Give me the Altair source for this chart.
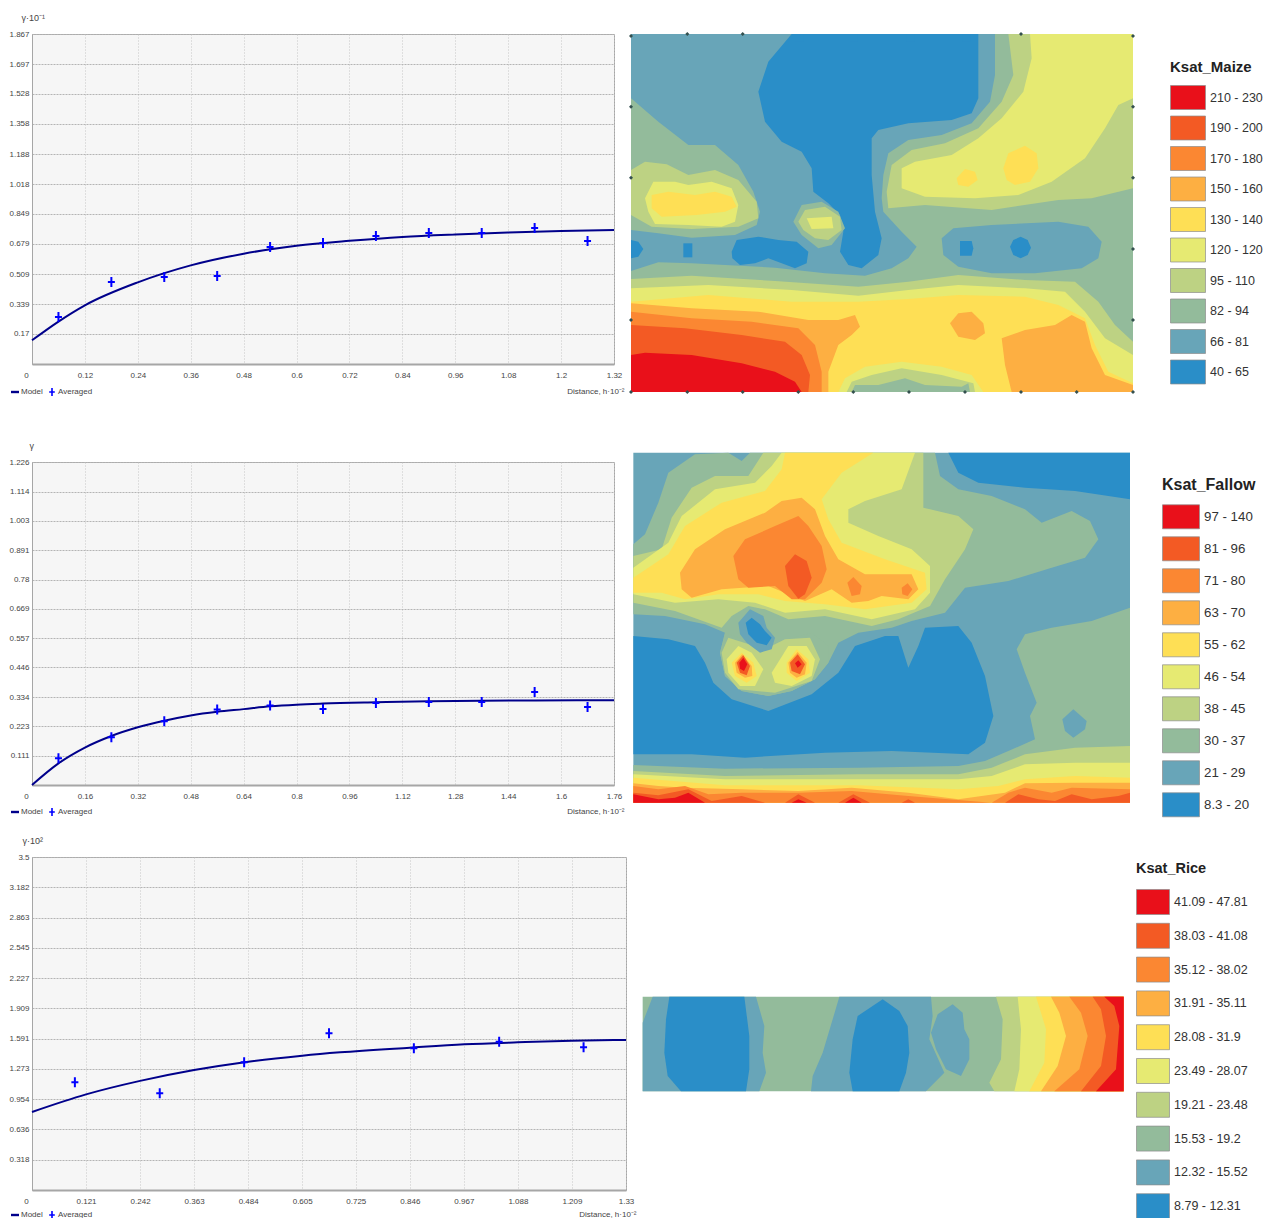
import altair as alt

FONT = "Liberation Sans"
CLASS_COLORS = ["#e9101a", "#f35a24", "#fb8732", "#fdaf42", "#fedf55",
                "#e6ea72", "#bdd283", "#93bb9b", "#68a5b8", "#2a8ec8"]
R, RO, O, LO, Y, YG, OL, SG, T, B = range(10)

# ---------- variograms ----------
m_x_ticks = [0, 0.12, 0.24, 0.36, 0.48, 0.6, 0.72, 0.84, 0.96, 1.08, 1.2, 1.32]
m_y_ticks = [0.17, 0.339, 0.509, 0.679, 0.849, 1.018, 1.188, 1.358, 1.528, 1.697, 1.867]
m_curve_x = [0, 0.06, 0.12, 0.24, 0.36, 0.48, 0.6, 0.72, 0.84, 0.96, 1.08, 1.2, 1.32]
m_curve_y = [0.134, 0.24, 0.332, 0.462, 0.558, 0.624, 0.669, 0.697, 0.719, 0.733, 0.744, 0.752, 0.758]
m_avg_x = [0.06, 0.18, 0.30, 0.42, 0.54, 0.66, 0.78, 0.90, 1.02, 1.14, 1.26]
m_avg_y = [0.266, 0.464, 0.492, 0.498, 0.662, 0.685, 0.724, 0.741, 0.741, 0.769, 0.696]

f_x_ticks = [0, 0.16, 0.32, 0.48, 0.64, 0.8, 0.96, 1.12, 1.28, 1.44, 1.6, 1.76]
f_y_ticks = [0.111, 0.223, 0.334, 0.446, 0.557, 0.669, 0.78, 0.891, 1.003, 1.114, 1.226]
f_curve_x = [0, 0.08, 0.16, 0.24, 0.32, 0.40, 0.48, 0.56, 0.64, 0.72, 0.8, 0.88, 1.04, 1.2, 1.36, 1.52, 1.76]
f_curve_y = [0, 0.082, 0.142, 0.186, 0.219, 0.244, 0.264, 0.278, 0.288, 0.2985, 0.305, 0.309, 0.314, 0.318, 0.32, 0.321, 0.322]
f_avg_x = [0.08, 0.24, 0.40, 0.56, 0.72, 0.88, 1.04, 1.20, 1.36, 1.52, 1.68]
f_avg_y = [0.102, 0.181, 0.242, 0.287, 0.302, 0.288, 0.311, 0.315, 0.315, 0.353, 0.296]

r_x_ticks = [0, 0.121, 0.242, 0.363, 0.484, 0.605, 0.725, 0.846, 0.967, 1.088, 1.209, 1.33]
r_y_ticks = [0.318, 0.636, 0.954, 1.273, 1.591, 1.909, 2.227, 2.545, 2.863, 3.182, 3.5]
r_curve_x = [0, 0.121, 0.242, 0.363, 0.484, 0.605, 0.69, 0.846, 0.968, 1.088, 1.209, 1.33]
r_curve_y = [0.82, 1.005, 1.147, 1.261, 1.349, 1.412, 1.447, 1.496, 1.531, 1.552, 1.569, 1.577]
r_avg_x = [0.096, 0.286, 0.475, 0.665, 0.855, 1.046, 1.235]
r_avg_y = [1.132, 1.016, 1.342, 1.647, 1.489, 1.559, 1.5]

# ---------- legends ----------
maize_labels = ["210 - 230", "190 - 200", "170 - 180", "150 - 160", "130 - 140",
                "120 - 120", "95 - 110", "82 - 94", "66 - 81", "40 - 65"]
fallow_labels = ["97 - 140", "81 - 96", "71 - 80", "63 - 70", "55 - 62",
                 "46 - 54", "38 - 45", "30 - 37", "21 - 29", "8.3 - 20"]
rice_labels = ["41.09 - 47.81", "38.03 - 41.08", "35.12 - 38.02", "31.91 - 35.11", "28.08 - 31.9",
               "23.49 - 28.07", "19.21 - 23.48", "15.53 - 19.2", "12.32 - 15.52", "8.79 - 12.31"]

# sampling stations on the frame of the maize map
maize_stations = [(18,33),(187,27),(353,27),(1188,27),(1524,33),(18,245),(18,458),(18,885),(18,1101),
                  (187,1101),(353,1101),(520,1101),(685,1101),(852,1101),(1020,1101),(1188,1101),
                  (1355,1101),(1524,1101),(1524,245),(1524,458),(1524,672),(1524,885)]

# ---------- class regions, painted in order ----------
maize_regions = [
 (SG, [(18,27),(1524,27),(1524,1101),(18,1101)]),
 (OL, [(1150,27),(1524,27),(1524,490),(1400,520),(1300,525),(1100,555),(900,540),(790,550),(785,500),(800,420),(860,375),(960,355),(1060,310),(1130,230),(1165,150)]),
 (YG, [(1215,27),(1524,27),(1524,220),(1480,240),(1440,310),(1380,400),(1280,470),(1180,510),(1050,520),(900,515),(830,490),(830,430),(870,410),(980,390),(1060,340),(1130,280),(1195,200),(1220,100)]),
 (Y, [(1135,430),(1150,385),(1200,362),(1235,385),(1240,430),(1215,470),(1170,480),(1145,465)]),
 (Y, [(995,460),(1020,432),(1050,440),(1058,465),(1030,485),(1000,480)]),
 (T, [(18,27),(1110,27),(1110,150),(1095,230),(1040,295),(950,330),(850,345),(790,385),(775,450),(770,520),(775,560),(830,620),(875,665),(850,700),(800,730),(720,752),(600,745),(450,728),(300,720),(200,715),(100,712),(18,738),(18,615),(100,625),(200,638),(330,630),(395,600),(405,560),(385,500),(340,420),(270,360),(190,360),(100,290),(18,220)]),
 (T, [(950,640),(985,610),(1100,600),(1300,590),(1390,605),(1430,650),(1420,700),(1370,730),(1230,745),(1100,745),(1000,725),(955,690)]),
 (B, [(1060,27),(1060,220),(1040,265),(980,285),(850,295),(760,315),(740,340),(740,450),(750,560),(770,640),(760,690),(710,730),(670,720),(645,680),(655,620),(645,570),(610,535),(565,500),(560,430),(530,380),(470,350),(420,290),(400,200),(430,110),(500,27)]),
 (SG, [(505,590),(530,540),(590,530),(640,560),(660,610),(620,660),(580,670),(530,630)]),
 (OL, [(520,590),(540,555),(600,545),(645,575),(650,615),(610,645),(570,640),(535,615)]),
 (YG, [(545,580),(620,575),(625,610),(560,612)]),
 (B, [(510,27),(535,27),(535,50),(510,50)]),
 (B, [(675,27),(697,27),(697,50),(675,50)]),
 (B, [(845,27),(868,27),(868,50),(845,50)]),
 (B, [(1013,27),(1037,27),(1037,50),(1013,50)]),
 (B, [(18,645),(40,650),(55,672),(40,695),(18,700)]),
 (B, [(175,655),(202,655),(202,697),(175,697)]),
 (B, [(320,680),(335,645),(400,635),(460,645),(515,650),(550,680),(545,715),(510,730),(470,715),(430,700),(390,715),(345,720),(322,700)]),
 (B, [(1005,648),(1040,648),(1045,670),(1040,692),(1005,692)]),
 (B, [(1155,665),(1165,645),(1187,635),(1208,645),(1218,668),(1208,690),(1187,700),(1165,690)]),
 (OL, [(18,435),(60,410),(125,418),(190,450),(270,435),(340,465),(395,530),(400,580),(340,605),(200,612),(80,605),(18,570)]),
 (YG, [(60,520),(85,470),(150,470),(190,480),(260,470),(320,490),(340,540),(330,590),(290,605),(190,600),(90,597),(70,560)]),
 (Y, [(80,510),(130,500),(210,510),(270,500),(320,515),(335,545),(300,560),(215,570),(110,575),(80,550)]),
 (OL, [(18,762),(200,752),(450,768),(700,785),(850,770),(1000,750),(1200,765),(1350,770),(1420,830),(1470,900),(1524,950),(1524,1101),(18,1101)]),
 (YG, [(18,790),(250,780),(500,795),(700,812),(850,795),(1000,780),(1200,790),(1320,800),(1380,860),(1440,940),(1524,990),(1524,1101),(18,1101)]),
 (Y, [(18,830),(250,810),(500,830),(700,830),(850,822),(1000,810),(1200,815),(1300,840),(1380,880),(1410,960),(1450,1040),(1524,1075),(1524,1101),(18,1101)]),
 (LO, [(1130,940),(1200,915),(1290,900),(1340,870),(1380,890),(1400,970),(1440,1050),(1524,1080),(1524,1101),(1160,1101),(1140,1020)]),
 (LO, [(18,835),(200,850),(400,860),(550,885),(640,885),(690,870),(705,905),(680,930),(640,960),(610,1040),(610,1101),(18,1101)]),
 (YG, [(640,1101),(660,1060),(720,1025),(830,1010),(950,1025),(1040,1050),(1075,1101)]),
 (OL, [(665,1101),(680,1070),(740,1050),(830,1030),(950,1050),(1045,1075),(1050,1101)]),
 (SG, [(680,1101),(690,1080),(760,1080),(840,1060),(900,1080),(1010,1085),(1030,1075),(1035,1101)]),
 (LO, [(975,895),(1000,865),(1040,860),(1075,895),(1080,925),(1050,945),(1000,935)]),
 (O, [(18,860),(200,880),(380,890),(520,910),(570,960),(590,1040),(590,1101),(18,1101)]),
 (RO, [(18,900),(180,910),(350,930),(480,950),(530,990),(555,1050),(550,1101),(18,1101)]),
 (R, [(18,990),(60,983),(200,990),(350,1015),(450,1040),(510,1070),(530,1101),(18,1101)]),
]

fallow_regions = [
 (T, [(25,20),(1515,20),(1515,1070),(25,1070)]),
 (B, [(970,20),(1515,20),(1515,160),(1350,135),(1200,125),(1060,110),(1000,80)]),
 (SG, [(25,295),(60,265),(100,170),(130,80),(210,25),(310,20),(350,45),(375,20),(930,20),(945,90),(1000,130),(1100,150),(1200,190),(1250,230),(1340,195),(1395,225),(1420,280),(1380,335),(1280,365),(1150,405),(1020,425),(960,500),(860,525),(800,545),(700,560),(640,590),(610,650),(570,700),(500,735),(430,750),(350,735),(300,690),(285,620),(300,560),(240,535),(120,510),(25,505)]),
 (OL, [(25,330),(110,310),(140,215),(200,125),(270,90),(370,90),(415,20),(895,20),(895,185),(1000,210),(1045,250),(1020,310),(960,400),(915,480),(820,520),(740,540),(600,510),(490,520),(420,490),(370,480),(320,510),(290,545),(150,495),(25,470)]),
 (YG, [(25,365),(130,290),(170,210),(270,130),(390,110),(440,60),(470,20),(870,20),(830,130),(720,165),(670,190),(670,230),(760,270),(860,310),(915,360),(915,440),(870,490),(740,520),(600,490),(480,500),(390,470),(280,460),(150,470),(25,445)]),
 (Y, [(25,395),(130,325),(180,240),(290,170),(420,135),(470,70),(480,20),(745,20),(650,80),(590,160),(610,220),(650,290),(780,340),(900,380),(905,430),(860,470),(720,490),(600,475),(480,465),(400,445),(280,445),(180,460),(110,440),(25,440)]),
 (LO, [(165,380),(210,310),(300,250),(420,200),(470,165),(530,155),(570,190),(600,270),(640,340),(720,385),(800,385),(860,385),(880,430),(850,460),(770,450),(730,465),(680,470),(620,430),(540,465),(430,420),(290,430),(200,455),(170,430)]),
 (O, [(325,330),(360,280),(450,240),(520,210),(550,240),(590,300),(605,370),(590,410),(540,460),(500,460),(450,420),(370,425),(340,400)]),
 (RO, [(480,360),(510,325),(545,345),(560,395),(540,445),(520,458),(490,420)]),
 (O, [(667,410),(685,393),(710,420),(705,445),(680,450)]),
 (O, [(830,425),(848,412),(862,430),(848,450),(832,445)]),
 (B, [(25,570),(130,580),(210,600),(240,650),(265,710),(320,760),(430,795),(560,745),(640,680),(690,600),(780,570),(820,570),(850,665),(880,600),(900,545),(1000,540),(1040,590),(1080,690),(1105,810),(1080,890),(1030,925),(800,915),(600,920),(360,935),(200,925),(25,925)]),
 (SG, [(285,620),(300,560),(420,600),(560,560),(610,600),(610,650),(570,700),(500,735),(430,750),(350,735),(300,690)]),
 (OL, [(290,620),(310,575),(420,610),(480,580),(555,575),(585,640),(560,705),(450,740),(340,730),(300,680)]),
 (YG, [(305,640),(340,600),(380,620),(415,670),(390,720),(345,720),(310,680)]),
 (YG, [(440,680),(490,600),(545,600),(570,640),(560,690),(500,720),(450,710)]),
 (Y, [(320,650),(350,620),(385,650),(395,690),(365,710),(330,690)]),
 (Y, [(485,650),(515,610),(550,640),(555,680),(515,705),(485,680)]),
 (LO, [(330,650),(352,625),(380,660),(382,690),(360,695),(335,680)]),
 (LO, [(490,650),(518,618),(545,650),(540,685),(515,695),(495,680)]),
 (RO, [(335,650),(355,628),(375,660),(365,688),(345,680)]),
 (RO, [(495,650),(518,625),(540,655),(525,685),(500,675)]),
 (R, [(343,650),(355,635),(367,655),(357,675),(345,668)]),
 (R, [(510,652),(520,643),(530,655),(518,665)]),
 (T, [(340,530),(375,490),(415,510),(425,545),(450,575),(440,610),(405,620),(365,590),(345,565)]),
 (B, [(362,530),(380,515),(405,535),(420,555),(440,575),(425,598),(395,590),(370,565)]),
 (SG, [(1175,610),(1200,565),(1280,545),(1400,525),(1515,485),(1515,1070),(25,1070),(25,957),(300,968),(700,965),(1000,960),(1080,945),(1150,915),(1230,880),(1215,810),(1235,770),(1200,680)]),
 (T, [(1312,820),(1345,790),(1385,825),(1380,850),(1345,875),(1320,855)]),
 (OL, [(25,975),(300,990),(700,985),(1000,985),(1100,965),(1200,925),(1350,905),(1515,900),(1515,1070),(25,1070)]),
 (YG, [(25,985),(300,1000),(700,1000),(1000,1000),(1100,990),(1200,955),(1350,950),(1515,950),(1515,1070),(25,1070)]),
 (Y, [(25,995),(300,1018),(700,1018),(1000,1030),(1120,1020),(1200,1000),(1350,990),(1515,995),(1515,1070),(25,1070)]),
 (LO, [(25,1012),(100,1020),(180,1025),(350,1030),(520,1035),(680,1025),(850,1040),(1000,1060),(1140,1040),(1200,1012),(1350,1010),(1515,1010),(1515,1070),(25,1070)]),
 (O, [(25,1020),(100,1030),(180,1020),(250,1045),(350,1040),(520,1040),(680,1035),(850,1050),(1100,1070),(1150,1040),(1200,1025),(1280,1040),(1340,1025),(1515,1030),(1515,1070),(25,1070)]),
 (RO, [(25,1040),(100,1048),(190,1030),(260,1065),(350,1050),(420,1070),(25,1070)]),
 (RO, [(480,1070),(520,1045),(570,1070)]),
 (RO, [(640,1070),(685,1045),(735,1070)]),
 (RO, [(830,1070),(850,1060),(870,1070)]),
 (RO, [(1140,1070),(1180,1045),(1240,1060),(1290,1065),(1340,1045),(1400,1060),(1480,1050),(1515,1040),(1515,1070)]),
 (R, [(25,1045),(100,1060),(150,1055),(190,1040),(240,1070),(25,1070)]),
 (R, [(500,1070),(520,1060),(545,1070)]),
 (R, [(660,1070),(685,1055),(710,1070)]),
]

rice_regions = [
 (SG, [(20,32),(1463,32),(1463,316),(20,316)]),
 (T, [(20,110),(50,32),(360,32),(385,120),(380,200),(390,260),(370,316),(20,316)]),
 (B, [(100,32),(325,32),(340,150),(340,250),(330,316),(135,316),(95,270),(85,200),(90,100)]),
 (T, [(610,32),(885,32),(890,90),(880,160),(925,260),(870,316),(525,316),(530,270),(560,200),(590,100)]),
 (B, [(665,90),(740,40),(790,75),(815,120),(820,200),(810,260),(790,316),(650,316),(640,260),(650,160)]),
 (T, [(905,85),(950,55),(980,80),(985,130),(1000,160),(1000,220),(975,270),(930,250),(900,190),(885,140)]),
 (OL, [(1080,32),(1463,32),(1463,316),(1075,316),(1060,290),(1095,220),(1100,100)]),
 (YG, [(1145,32),(1463,32),(1463,316),(1135,316),(1150,250),(1155,130)]),
 (Y, [(1200,32),(1463,32),(1463,316),(1180,316),(1225,230),(1230,130),(1215,80)]),
 (LO, [(1245,32),(1463,32),(1463,316),(1215,316),(1265,240),(1290,150),(1270,80)]),
 (O, [(1300,32),(1463,32),(1463,316),(1255,316),(1330,250),(1355,150),(1335,80)]),
 (RO, [(1370,32),(1463,32),(1463,316),(1335,316),(1395,240),(1410,150),(1395,70)]),
 (R, [(1405,32),(1463,32),(1463,316),(1380,316),(1440,250),(1450,120),(1435,60)]),
]

MODEL_PATH = "M-1,-0.3H1V0.3H-1Z"
CROSS_PATH = "M-0.2,-1H0.2V-0.2H0.7V0.2H0.2V1H-0.2V0.2H-0.7V-0.2H-0.2Z"
LABEL_EXPR = "toString(datum.value)"
SYM_BOX = 26  # nominal legend symbol box; the drawn swatch is scaled from it


def variogram(xt, yt, cx, cy, ax, ay, w, h, ytitle, ytitle_x, xtitle_x, legend_dy, xtitle_y):
    xs = alt.X("x:Q", scale=alt.Scale(domain=[0, xt[-1]], nice=False, zero=False),
               axis=alt.Axis(values=xt, labelExpr=LABEL_EXPR, title="Distance, h·10⁻²", labelOverlap=False,
                             labelFont=FONT, labelFontSize=8, labelColor="#444", labelPadding=7,
                             tickSize=0, domainColor="#a6a6a6", domainWidth=2,
                             gridColor="#c6c6c6", gridDash=[1, 2],
                             labelFlush=False, labelBound=False,
                             labelOffset=alt.condition("datum.value == 0", alt.value(-6), alt.value(0)),
                             titleFont=FONT, titleFontSize=8, titleFontWeight="normal", titleColor="#444",
                             titleAlign="right", titleBaseline="middle", titleX=xtitle_x, titleY=xtitle_y))
    ys = alt.Y("y:Q", scale=alt.Scale(domain=[0, yt[-1]], nice=False, zero=False),
               axis=alt.Axis(values=yt, labelExpr=LABEL_EXPR, title=ytitle, labelOverlap=False,
                             labelFont=FONT, labelFontSize=8, labelColor="#444", labelPadding=3,
                             labelFlush=False, labelBound=False,
                             tickSize=0, domainColor="#a6a6a6", domainWidth=1,
                             gridColor="#b4b4b4", gridDash=[2, 1],
                             titleFont=FONT, titleFontSize=9, titleFontWeight="normal", titleColor="#444",
                             titleAngle=0, titleAlign="left", titleBaseline="middle", titleX=ytitle_x, titleY=-17))
    line = alt.Chart(alt.Data(values=[{"x": a, "y": b} for a, b in zip(cx, cy)])).mark_line(
        color="#00008b", strokeWidth=2, interpolate="monotone").encode(x=xs, y=ys)
    leg = alt.Legend(title=None, orient="none", direction="horizontal", columns=2,
                     legendX=-22, legendY=h + legend_dy, labelFont=FONT, labelFontSize=8, labelColor="#444",
                     symbolSize=64, columnPadding=4, labelOffset=1, padding=0)
    pts = alt.Chart(alt.Data(values=[{"x": a, "y": b, "s": "Averaged"} for a, b in zip(ax, ay)])).mark_point(
        filled=True, size=100, opacity=1).encode(
        x=xs, y=ys,
        color=alt.Color("s:N", scale=alt.Scale(domain=["Model", "Averaged"], range=["#00008b", "#0000ff"]), legend=leg),
        shape=alt.Shape("s:N", scale=alt.Scale(domain=["Model", "Averaged"], range=[MODEL_PATH, CROSS_PATH]), legend=leg),
    )
    return alt.layer(line, pts).properties(
        width=w, height=h, view=alt.ViewBackground(fill="#f6f6f6", stroke="#a6a6a6"))


def polygon_feature(poly, **props):
    ring = [list(p) for p in poly] + [list(poly[0])]
    return {"type": "Feature", "geometry": {"type": "Polygon", "coordinates": [ring]}, **props}


def contour_map(regions, labels, title, w, h, tx, ty, lx, ly, sym_w, sym_h, row_pad, lab_off, lab_size,
                title_size, title_pad, precision, stations=()):
    feats = [polygon_feature(poly, cls=labels[c]) for c, poly in regions]
    a = sym_w / SYM_BOX
    b = sym_h / SYM_BOX
    path = f"M{-a:.3f},{-b:.3f}H{a:.3f}V{b:.3f}H{-a:.3f}Z"
    proj = dict(type="identity", scale=1 / 3, translate=[tx, ty], precision=precision)
    base = alt.Chart(alt.Data(values=feats)).mark_geoshape(strokeWidth=0, clip=False).encode(
        color=alt.Color("cls:N", scale=alt.Scale(domain=labels, range=CLASS_COLORS), sort=None,
                        legend=alt.Legend(title=title, orient="none", legendX=lx, legendY=ly, values=labels,
                                          symbolType=path, symbolSize=SYM_BOX * SYM_BOX, symbolStrokeWidth=0.7,
                                          symbolStrokeColor="#8c8c8c", symbolOpacity=1,
                                          symbolOffset=(sym_w - SYM_BOX) / 2,
                                          rowPadding=row_pad, labelFont=FONT, labelFontSize=lab_size,
                                          labelColor="#333", labelOffset=lab_off, labelLimit=200, padding=0,
                                          titleFont=FONT, titleFontSize=title_size, titleFontWeight="bold",
                                          titleColor="#222", titlePadding=title_pad))
    ).project(**proj)
    layers = [base]
    if stations:
        dots = [polygon_feature([(x - 6, y), (x, y - 6), (x + 6, y), (x, y + 6)]) for x, y in stations]
        layers.append(alt.Chart(alt.Data(values=dots)).mark_geoshape(
            strokeWidth=0, fill="#34504f", clip=False).project(**proj))
    return alt.layer(*layers).properties(width=w, height=h, view=alt.ViewBackground(stroke=None))


panels = [
    variogram(m_x_ticks, m_y_ticks, m_curve_x, m_curve_y, m_avg_x, m_avg_y, 582, 330, "γ·10⁻¹", -11, 592, 23, 27),
    contour_map(maize_regions, maize_labels, "Ksat_Maize", 620, 358, -7, -9, 538, 26, 35, 24, 3.5, 8.5, 12.5, 15, 9, 0.5,
                stations=maize_stations),
    variogram(f_x_ticks, f_y_ticks, f_curve_x, f_curve_y, f_avg_x, f_avg_y, 582, 323, "γ", -3, 592, 22, 26),
    contour_map(fallow_regions, fallow_labels, "Ksat_Fallow", 620, 325, -7, -16, 530, 15, 37, 24, 5, 9.5, 13.3, 16, 10.3, 0.6),
    variogram(r_x_ticks, r_y_ticks, r_curve_x, r_curve_y, r_avg_x, r_avg_y, 594, 333, "γ·10²", -10, 604, 20, 24),
    contour_map(rice_regions, rice_labels, "Ksat_Rice", 620, 333, 4, 129, 504, 5, 33, 25, 4.8, 7.5, 12.5, 14.5, 12, 0.7),
]

chart = alt.concat(*panels, columns=2, spacing=alt.RowColnumber(column=6, row=70), bounds="flush").resolve_scale(
    color="independent", shape="independent"
).resolve_legend(color="independent", shape="independent").properties(
    padding={"left": 0, "top": 4, "right": 0, "bottom": -3}
)

chart.save("out.html", embed_options={"renderer": "svg", "actions": False})
